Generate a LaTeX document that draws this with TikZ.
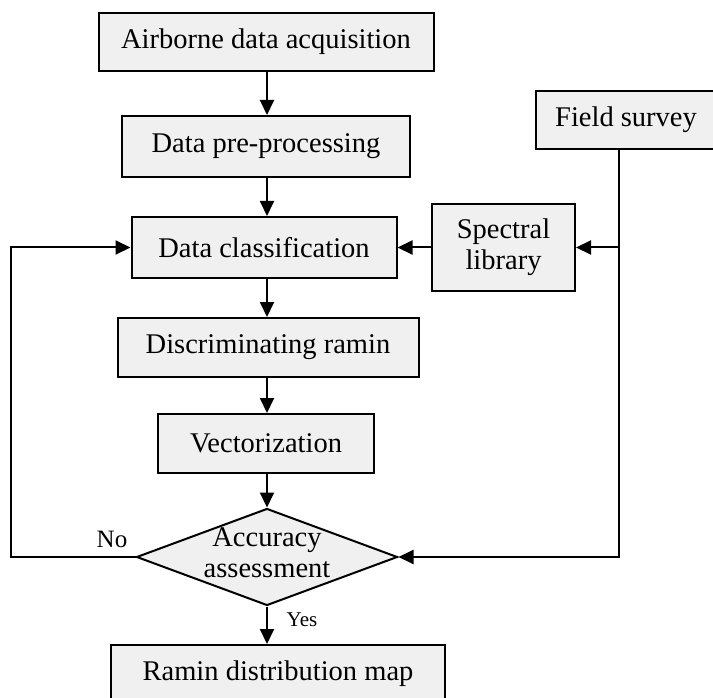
\documentclass[tikz,border=0pt]{standalone}
\usepackage{fontspec}
\setmainfont{Liberation Serif}
\usetikzlibrary{shapes.geometric,arrows.meta}

\definecolor{boxgray}{RGB}{240,240,240}
\tikzset{every picture/.style={line width=2pt}}
\tikzset{
  stepbox/.style={draw, fill=boxgray, line width=2pt, inner sep=0pt, align=center,
    font=\fontsize{28.5}{31}\selectfont},
  decide/.style={draw, fill=boxgray, line width=2pt, diamond, inner sep=0pt},
  flow/.style={line width=2pt, -{Triangle[length=15pt,width=14pt]}},
  tag/.style={inner sep=0pt}
}

\begin{document}
\begin{tikzpicture}[x=1pt,y=1pt,yscale=-1,xscale=1]
\useasboundingbox (0,0) rectangle (713,698);

% Main column
\node [stepbox, minimum width=335, minimum height=58] (acq) at (266,42) {Airborne data acquisition};
\node [stepbox, minimum width=288, minimum height=61] (pre) at (266,146.5) {Data pre-processing};
\node [stepbox, minimum width=265, minimum height=61] (cls) at (264,247.5) {Data classification};
\node [stepbox, minimum width=301, minimum height=59] (disc) at (268,347.5) {Discriminating ramin};
\node [stepbox, minimum width=216, minimum height=59] (vec) at (266,443.5) {Vectorization};
\node [decide, minimum width=261, minimum height=97] (chk) at (267,557) {};
\node [align=center, tag, font=\fontsize{28.5}{31}\selectfont] (chktxt) at (267,553) {Accuracy\\assessment};
\node [stepbox, minimum width=334, minimum height=58] (map) at (278,674) {Ramin distribution map};

% Side boxes
\node [stepbox, minimum width=143, minimum height=86] (spec) at (503.5,247.5) {Spectral\\library};
\node [stepbox, minimum width=180, minimum height=58] (field) at (626,120) {Field survey};

%Straight Lines
\draw [flow] (acq.south -| 267,0) -- (pre.north -| 267,0);
\draw [flow] (pre.south -| 267,0) -- (cls.north -| 267,0);
\draw [flow] (cls.south -| 267,0) -- (disc.north -| 267,0);
\draw [flow] (disc.south -| 267,0) -- (vec.north -| 267,0);
\draw [flow] (vec.south -| 267,0) -- (chk.north);
\draw [flow] (chk.south) -- (chk.south |- map.north);
\draw [flow] (spec.west) -- (cls.east);

% Field survey feeds both the library and the check
\coordinate (tap) at (619,557);
\draw [flow] (field.south -| tap) -- (tap) -- (chk.east);
\draw [flow] (spec.east -| tap) -- (spec.east);

% Loop back when the check fails
\coordinate (back) at (11,557);
\draw [flow] (chk.west) -- (back) -- (back |- cls.west) -- (cls.west);

% Text Node
\node [tag, font=\fontsize{25}{30}\selectfont] (no) at (112,539) {No};
\node [tag, font=\fontsize{21}{25}\selectfont] (yes) at (302,620) {Yes};
\end{tikzpicture}
\end{document}
